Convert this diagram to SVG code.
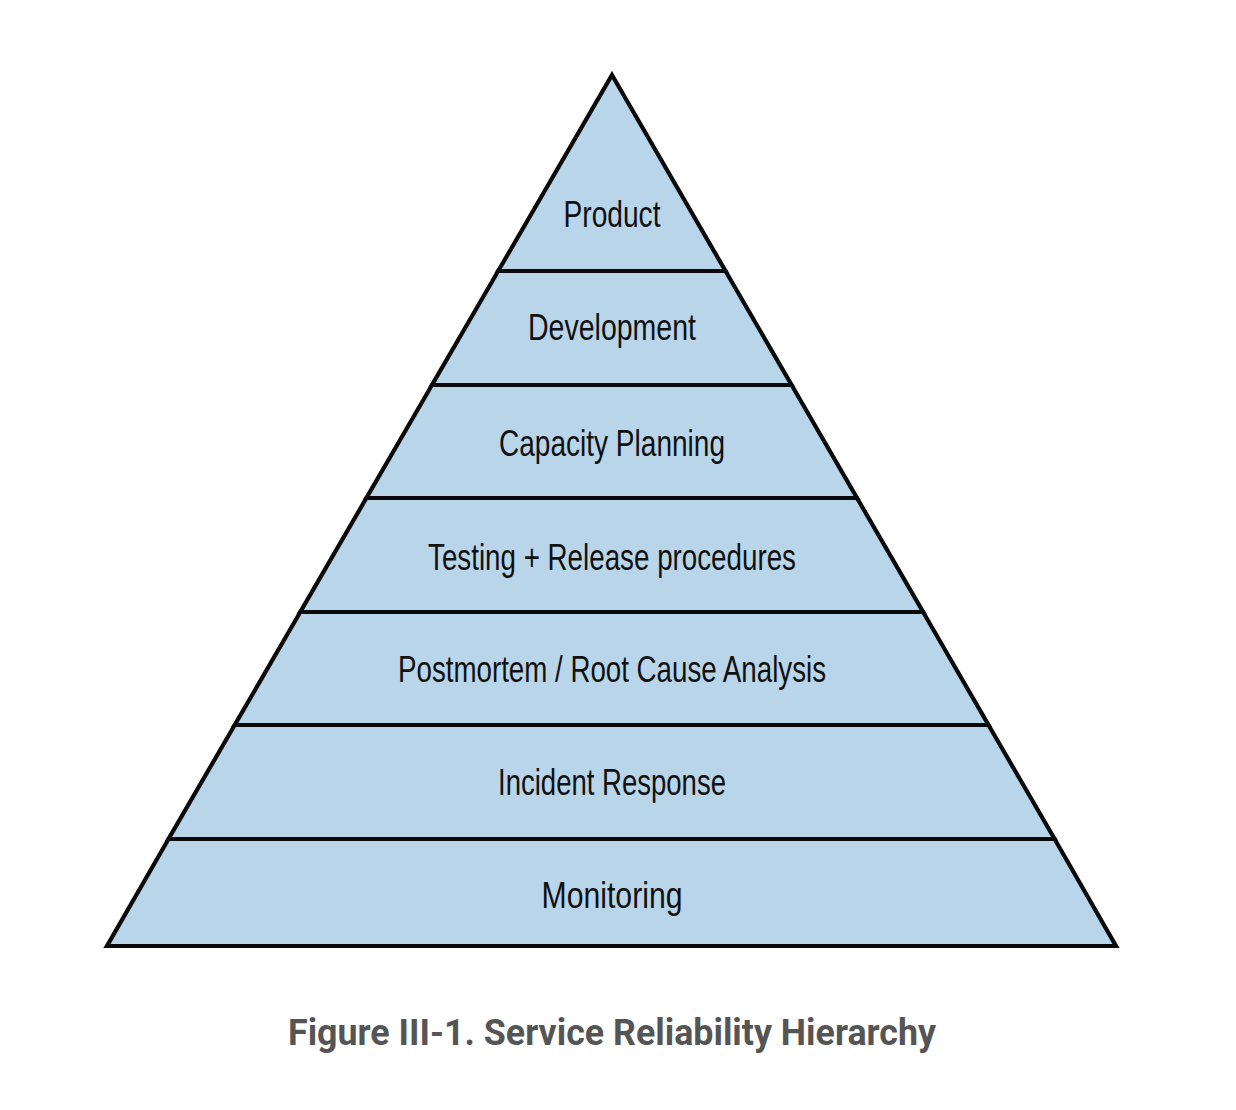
<svg xmlns="http://www.w3.org/2000/svg" width="1236" height="1110" viewBox="0 0 1236 1110">
  <style>
    .layer { fill: #b9d5ea; stroke: #0a0a0a; stroke-width: 4.2; stroke-linejoin: miter; stroke-miterlimit: 10; }
    .lbl { font-family: "Liberation Sans", "DejaVu Sans", sans-serif; font-size: 37px; fill: #111111; text-anchor: middle; }
    .caption { font-family: Roboto, "Liberation Sans", sans-serif; font-weight: bold; font-size: 36px; fill: #555555; text-anchor: middle; }
  </style>
  <rect width="1236" height="1110" fill="#ffffff"/>
  <g id="monitoring">
    <polygon class="layer" points="168.5,839 1054.6,839 1116,946 107,946"/>
    <text class="lbl" x="612" y="908" textLength="141" lengthAdjust="spacingAndGlyphs">Monitoring</text>
  </g>
  <g id="incident-response">
    <polygon class="layer" points="234.7,725 988.5,725 1054.6,839 168.5,839"/>
    <text class="lbl" x="612" y="795" textLength="228" lengthAdjust="spacingAndGlyphs">Incident Response</text>
  </g>
  <g id="postmortem">
    <polygon class="layer" points="300.3,612 923.1,612 988.5,725 234.7,725"/>
    <text class="lbl" x="612" y="682" textLength="428" lengthAdjust="spacingAndGlyphs">Postmortem / Root Cause Analysis</text>
  </g>
  <g id="testing-release">
    <polygon class="layer" points="366.4,498 857.0,498 923.1,612 300.3,612"/>
    <text class="lbl" x="612" y="570" textLength="368" lengthAdjust="spacingAndGlyphs">Testing + Release procedures</text>
  </g>
  <g id="capacity-planning">
    <polygon class="layer" points="432.0,385 791.6,385 857.0,498 366.4,498"/>
    <text class="lbl" x="612" y="456" textLength="226" lengthAdjust="spacingAndGlyphs">Capacity Planning</text>
  </g>
  <g id="development">
    <polygon class="layer" points="498.2,271 725.5,271 791.6,385 432.0,385"/>
    <text class="lbl" x="612" y="340" textLength="168" lengthAdjust="spacingAndGlyphs">Development</text>
  </g>
  <g id="product">
    <polygon class="layer" points="612,75 725.5,271 498.2,271"/>
    <text class="lbl" x="612" y="227" textLength="97" lengthAdjust="spacingAndGlyphs">Product</text>
  </g>
  <g id="caption">
    <text class="caption" x="612" y="1045" textLength="648" lengthAdjust="spacingAndGlyphs">Figure III-1. Service Reliability Hierarchy</text>
  </g>
</svg>
